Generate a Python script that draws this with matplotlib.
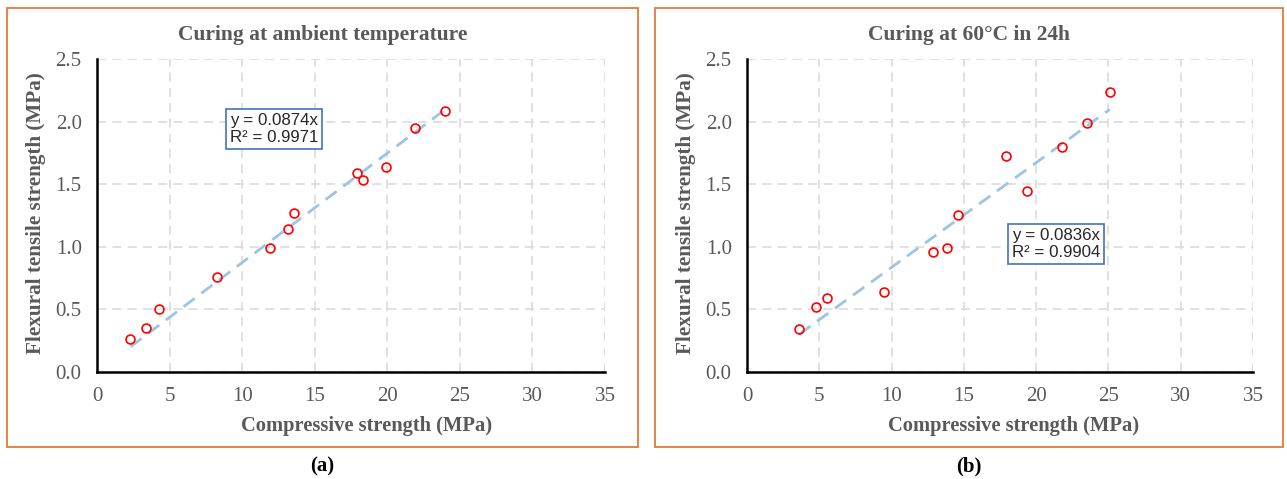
import numpy as np
import matplotlib.pyplot as plt
from matplotlib.patches import Rectangle

# Data
ambient_x = [2.3, 3.4, 4.25, 8.3, 11.9, 13.15, 13.6, 17.9, 18.35, 19.9, 21.9, 24.0]
ambient_y = [0.26, 0.355, 0.505, 0.755, 0.99, 1.145, 1.27, 1.59, 1.53, 1.64, 1.945, 2.085]
ambient_slope = 0.0874
ambient_r2 = 0.9971

heat_x = [3.6, 4.8, 5.5, 9.5, 12.9, 13.85, 14.6, 17.9, 19.4, 21.8, 23.55, 25.1]
heat_y = [0.34, 0.52, 0.595, 0.635, 0.96, 0.99, 1.255, 1.725, 1.445, 1.80, 1.99, 2.24]
heat_slope = 0.0836
heat_r2 = 0.9904

titles = ["Curing at ambient temperature", "Curing at 60\u00b0C in 24h"]
panel_labels = ["(a)", "(b)"]

serif = "Liberation Serif"
sans = "Liberation Sans"
gray = "#595959"

W, H = 1287, 479
fig = plt.figure(figsize=(W / 100, H / 100), dpi=100)

# panel borders (pixels -> figure fraction)
panels_px = [(7, 638), (655, 1283)]
for x0, x1 in panels_px:
    fig.patches.append(Rectangle((x0 / W, 1 - 447 / H), (x1 - x0) / W, (447 - 8) / H,
                                 transform=fig.transFigure, fill=False,
                                 edgecolor="#E07B39", linewidth=1.3))

axes_px = [(97, 605), (747, 1253)]
datasets = [(ambient_x, ambient_y, ambient_slope, ambient_r2, (12.2, 1.94), 0.531),
            (heat_x, heat_y, heat_slope, heat_r2, (21.37, 1.02), 0.526)]

for i, (ax_px, (xs, ys, slope, r2, box_pos, xlab_x)) in enumerate(zip(axes_px, datasets)):
    left = ax_px[0] / W
    width = (ax_px[1] - ax_px[0]) / W
    bottom = 1 - 372 / H
    height = (372 - 59) / H
    ax = fig.add_axes([left, bottom, width, height])

    ax.set_xlim(0, 35)
    ax.set_ylim(0, 2.5)
    ax.set_xticks(np.arange(0, 36, 5))
    ax.set_yticks(np.arange(0, 2.51, 0.5))
    ax.set_yticklabels([f"{v:.1f}" for v in np.arange(0, 2.51, 0.5)])

    ax.grid(True, color="#d9d9d9", linestyle=(0, (6, 4)), linewidth=1.1)
    ax.set_axisbelow(True)
    for s in ["top", "right"]:
        ax.spines[s].set_visible(False)
    for s in ["left", "bottom"]:
        ax.spines[s].set_linewidth(1.8)
        ax.spines[s].set_color("black")
    ax.tick_params(length=0, labelsize=15, labelcolor=gray)
    ax.tick_params(axis="y", pad=11)
    ax.tick_params(axis="x", pad=11)
    for lab in ax.get_xticklabels() + ax.get_yticklabels():
        lab.set_fontfamily(serif)

    # linear trendline through the origin
    tx = np.array([min(xs), max(xs)])
    ax.plot(tx, slope * tx, color="#9DC3E6", linewidth=2, linestyle=(0, (5, 3)))
    ax.plot(xs, ys, linestyle="none", marker="o", markersize=6.4,
            markerfacecolor="none", markeredgecolor="#FF0000", markeredgewidth=1.2)

    ax.text(box_pos[0], box_pos[1], f"y = {slope:.4f}x\nR\u00b2 = {r2:.4f}",
            ha="center", va="center", fontsize=12.2, family=sans, color="#262626",
            linespacing=1.15,
            bbox=dict(boxstyle="square,pad=0.25", facecolor="white",
                      edgecolor="#4472C4", linewidth=1.2))

    ax.set_xlabel("Compressive strength (MPa)", fontsize=14.8, fontweight="bold",
                  family=serif, color=gray)
    ax.xaxis.set_label_coords(xlab_x, -0.14)
    ax.set_ylabel("Flexural tensile strength (MPa)", fontsize=15.2, fontweight="bold",
                  family=serif, color=gray)
    ax.yaxis.set_label_coords(-0.1, 0.508)

    cx = (panels_px[i][0] + panels_px[i][1]) / 2 / W
    fig.text(cx, 1 - 35 / H, titles[i], ha="center", va="center",
             fontsize=15.5, fontweight="bold", family=serif, color=gray)
    fig.text(cx, 1 - 466 / H, panel_labels[i], ha="center", va="center",
             fontsize=15, fontweight="bold", family=serif, color="black")

fig.savefig("out.png", dpi=100)
